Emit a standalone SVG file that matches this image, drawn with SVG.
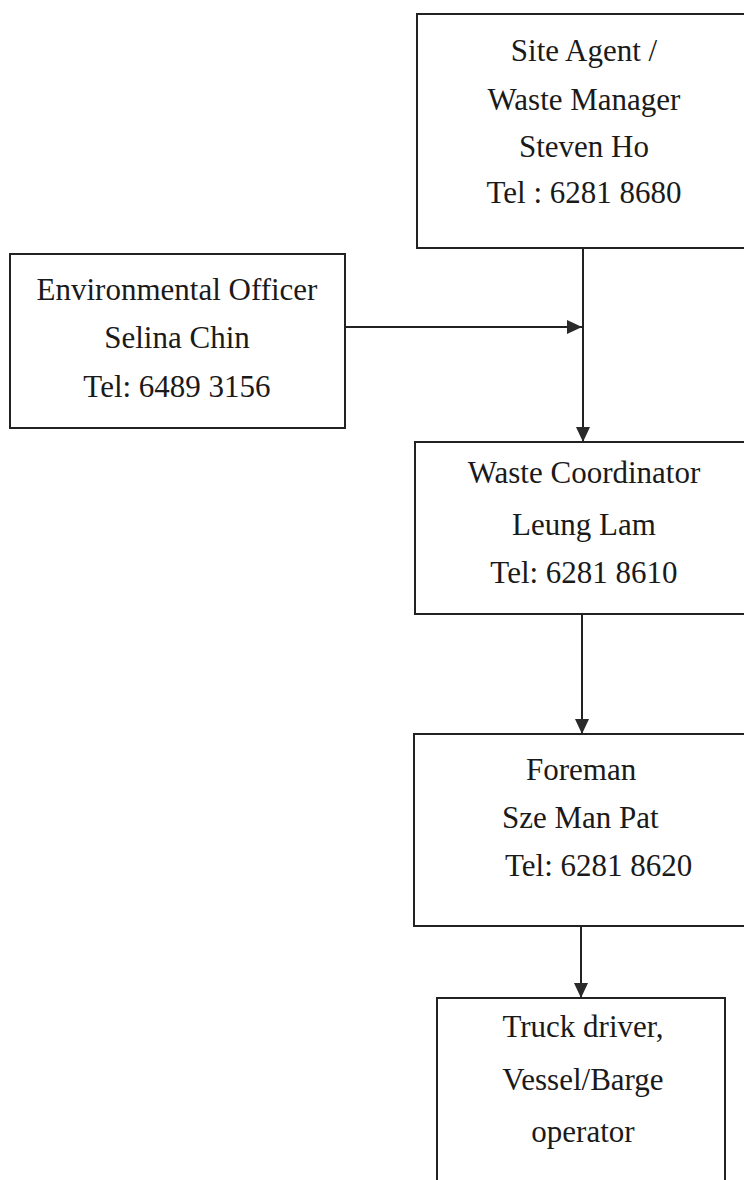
<svg xmlns="http://www.w3.org/2000/svg" width="744" height="1180" viewBox="0 0 744 1180">
<style>
.box{fill:#fff;stroke:#222;stroke-width:2}
.t{font-family:"Liberation Serif","Times New Roman",serif;font-size:31px;fill:#1a1a1a;text-anchor:middle}
.s{text-anchor:start}
.c{stroke:#222;stroke-width:2;fill:none}
</style>
<defs>
<marker id="ah" viewBox="0 0 15 14" refX="15" refY="7" markerWidth="15" markerHeight="14" markerUnits="userSpaceOnUse" orient="auto">
<path d="M0,0 L15,7 L0,14 Z" fill="#2a2a2a"/>
</marker>
</defs>
<rect width="744" height="1180" fill="#fff"/>
<g id="connectors">
<line class="c" x1="583" y1="248" x2="583" y2="442" marker-end="url(#ah)"/>
<line class="c" x1="345" y1="327" x2="582" y2="327" marker-end="url(#ah)"/>
<line class="c" x1="582" y1="614" x2="582" y2="734" marker-end="url(#ah)"/>
<line class="c" x1="581" y1="926" x2="581" y2="998" marker-end="url(#ah)"/>
</g>
<g id="site-agent">
<rect class="box" x="417" y="14" width="345" height="234"/>
<text class="t" x="584" y="61">Site Agent /</text>
<text class="t" x="584" y="110">Waste Manager</text>
<text class="t" x="584" y="157">Steven Ho</text>
<text class="t" x="584" y="203">Tel : 6281 8680</text>
</g>
<g id="env-officer">
<rect class="box" x="10" y="254" width="335" height="174"/>
<text class="t" x="177" y="300">Environmental Officer</text>
<text class="t" x="177" y="348">Selina Chin</text>
<text class="t" x="177" y="397">Tel: 6489 3156</text>
</g>
<g id="waste-coordinator">
<rect class="box" x="415" y="442" width="347" height="172"/>
<text class="t" x="584" y="483">Waste Coordinator</text>
<text class="t" x="584" y="535">Leung Lam</text>
<text class="t" x="584" y="583">Tel: 6281 8610</text>
</g>
<g id="foreman">
<rect class="box" x="414" y="734" width="348" height="192"/>
<text class="t s" x="526" y="780">Foreman</text>
<text class="t s" x="502" y="828">Sze Man Pat</text>
<text class="t s" x="505" y="876">Tel: 6281 8620</text>
</g>
<g id="truck-driver">
<rect class="box" x="437" y="998" width="288" height="200"/>
<text class="t" x="583" y="1037">Truck driver,</text>
<text class="t" x="583" y="1090">Vessel/Barge</text>
<text class="t" x="583" y="1142">operator</text>
</g>
</svg>
